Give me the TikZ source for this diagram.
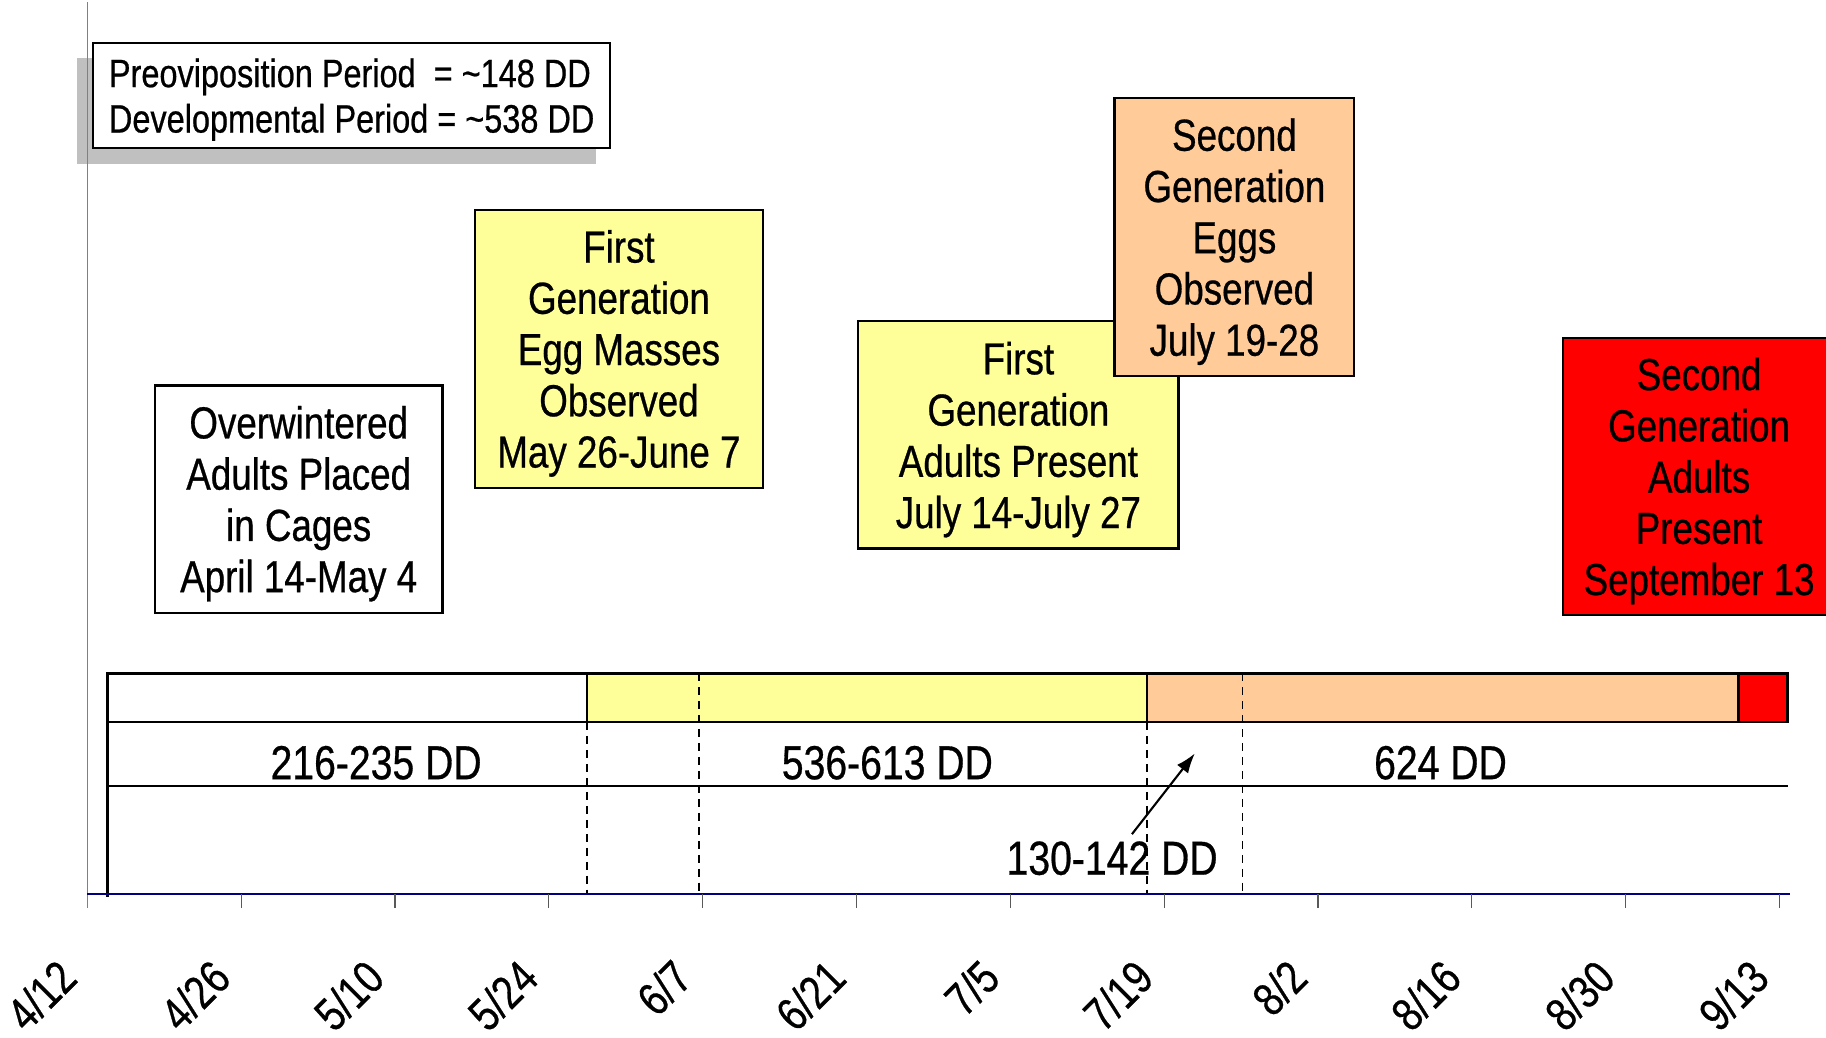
\documentclass[tikz,border=0pt]{standalone}
\usepackage{fontspec}
\setmainfont[FakeStretch=0.82,FakeBold=0.6]{Liberation Sans}
\usetikzlibrary{arrows.meta}
\definecolor{lyellow}{HTML}{FFFF99}
\definecolor{peach}{HTML}{FFCC99}
\definecolor{navyblue}{HTML}{000080}
\definecolor{shadowgray}{HTML}{C0C0C0}
\begin{document}
\begin{tikzpicture}[x=1pt,y=-1pt,
  evbox/.style={draw=black, line width=1.8pt, align=center, inner sep=0pt, text depth=0pt,
    font=\fontsize{38.5}{44}\selectfont},
  ddlab/.style={inner sep=0pt, font=\fontsize{41}{44}\selectfont},
  datelab/.style={inner sep=0pt, anchor=east, rotate=45, font=\fontsize{40}{42}\selectfont},
  barline/.style={line width=2.4pt},
  dashv/.style={line width=1.5pt, dash pattern=on 7pt off 5pt}]
\useasboundingbox (0,0) rectangle (1568,891);
\fill[white] (0,0) rectangle (1568,891);

% legend shadow and box
\fill[shadowgray] (66,50) rectangle (512,141);
\draw[gray, line width=1pt] (75,2) -- (75,780);
\node[draw=black, fill=white, line width=1.8pt, minimum width=444pt, minimum height=90pt,
  inner sep=0pt, text depth=0pt, align=left, font=\fontsize{34}{39}\selectfont] (legend) at (302,82)
  {Preoviposition Period\ \ = \textasciitilde148 DD\\Developmental Period = \textasciitilde538 DD};

% bar
\fill[white] (92,578) rectangle (504,620);
\fill[lyellow] (504,578) rectangle (985,620);
\fill[peach] (985,578) rectangle (1493,620);
\fill[red] (1493,578) rectangle (1535,620);
\draw[dashv] (600,578) -- (600,768);
\draw[dashv] (1067,578) -- (1067,768);
\draw[dashv] (504,620) -- (504,768);
\draw[dashv] (985,620) -- (985,768);
\draw[barline] (92,578) rectangle (1535,620);
\draw[barline] (504,578) -- (504,620);
\draw[barline] (985,578) -- (985,620);
\draw[barline] (1493,578) -- (1493,620);
\draw[barline] (92,675) -- (1535,675);
\draw[barline] (92,620) -- (92,770);

% axis
\draw[navyblue, line width=1.6pt] (75,768) -- (1537,768);
\foreach \i in {1,...,11} \draw[gray!70!black, line width=1pt] (75+132.1*\i,768) -- ++(0,12);
\foreach \d [count=\i from 0] in {4/12,4/26,5/10,5/24,6/7,6/21,7/5,7/19,8/2,8/16,8/30,9/13}
  \node[datelab] (date\i) at (75+132.1*\i-17,832) {\d};

% DD labels
\node[ddlab] (dd1) at (323,655) {216-235 DD};
\node[ddlab] (dd2) at (762,655) {536-613 DD};
\node[ddlab] (dd3) at (1237,655) {624 DD};
\node[ddlab] (dd4) at (955,737) {130-142 DD};
\coordinate (arrtip) at (1026,647);
\draw[line width=1.8pt, -{Latex[length=17pt,width=12pt]}] ([shift={(17,-6)}]dd4.north) -- (arrtip);

% event boxes
\node[evbox, fill=white, minimum width=247pt, minimum height=195pt] (overw) at (256.5,428.5)
  {Overwintered\\Adults Placed\\in Cages\\April 14-May 4};
\node[evbox, fill=lyellow, minimum width=247pt, minimum height=239pt] (egg1) at (531.5,299.5)
  {First\\Generation\\Egg Masses\\Observed\\May 26-June 7};
\node[evbox, fill=lyellow, minimum width=275pt, minimum height=195pt] (adult1) at (874.5,373.5)
  {First\\Generation\\Adults Present\\July 14-July 27};
\node[evbox, fill=peach, minimum width=206pt, minimum height=239pt] (egg2) at (1060,203.5)
  {Second\\Generation\\Eggs\\Observed\\July 19-28};
\node[evbox, fill=red, minimum width=234pt, minimum height=238pt] (adult2) at (1459,409)
  {Second\\Generation\\Adults\\Present\\September 13};
\end{tikzpicture}
\end{document}
